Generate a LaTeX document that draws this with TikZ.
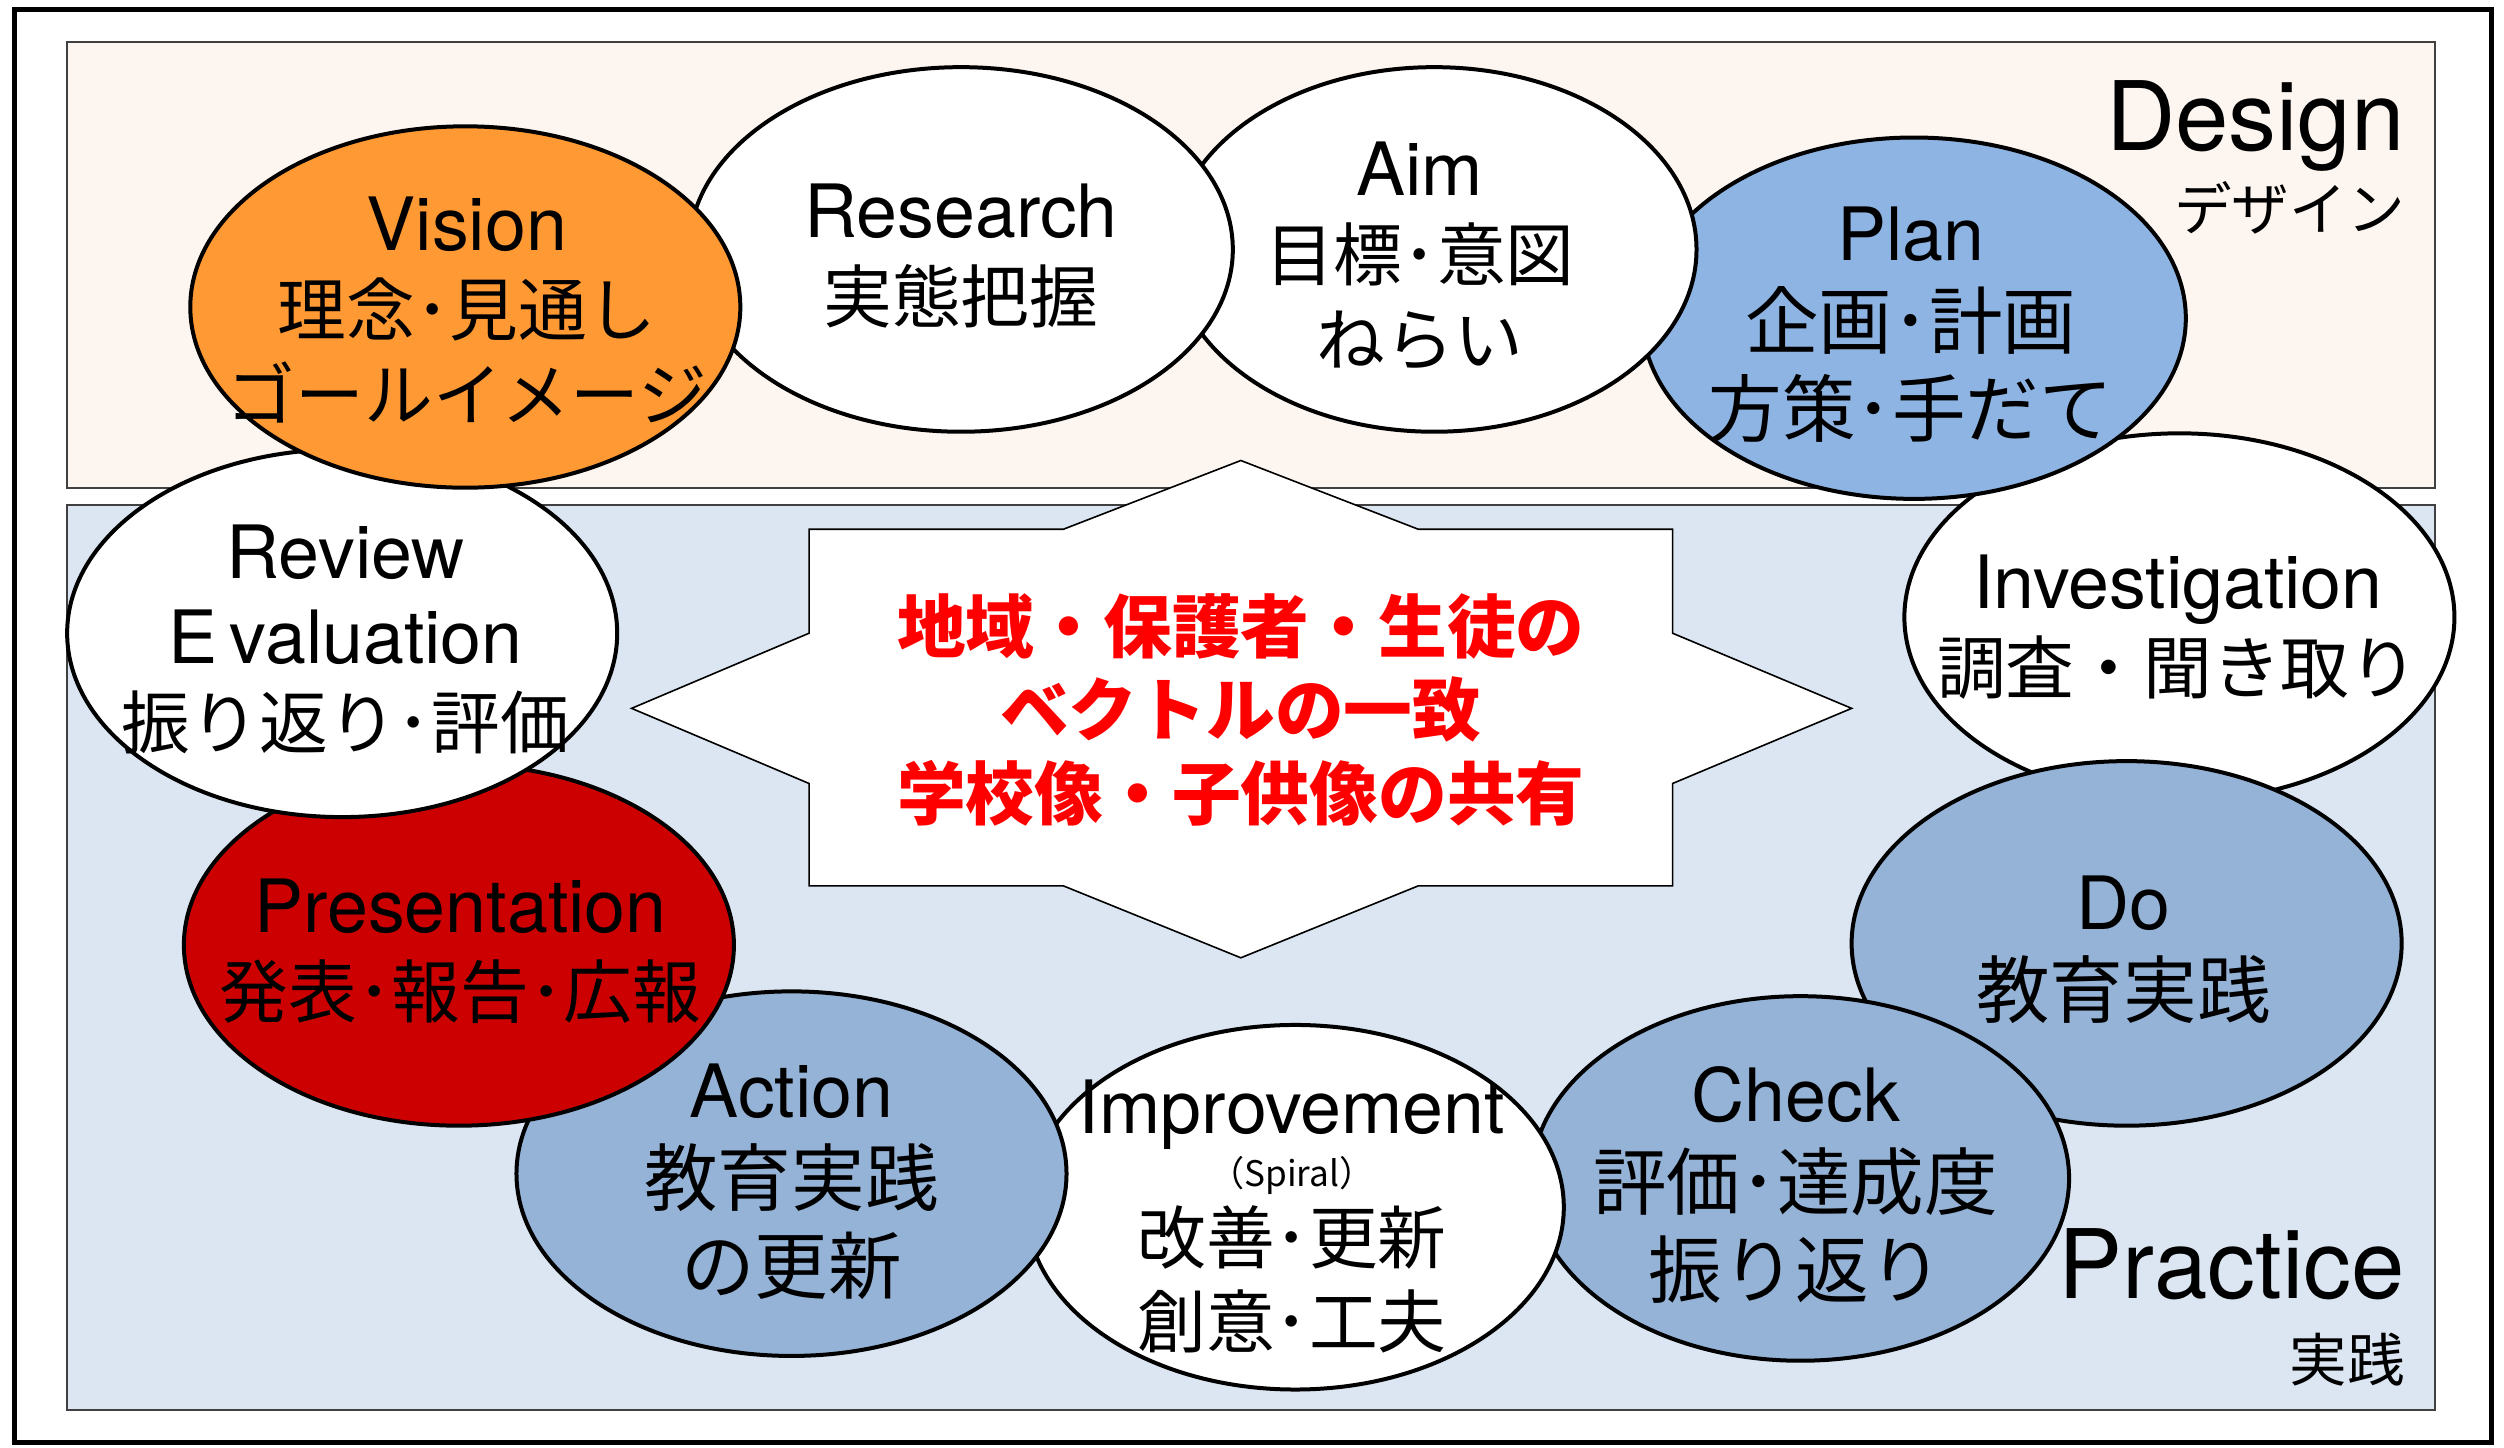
\documentclass[tikz,border=0pt]{standalone}
\usepackage{fontspec}
\setmainfont{TeX Gyre Heros}
\newfontfamily\jp{Noto Sans CJK JP}
\newcommand\jt[1]{{\jp\fontsize{43}{53}\selectfont #1}}
\newcommand\jtb[1]{{\jp\fontsize{46}{55}\selectfont #1}}
\definecolor{designbg}{RGB}{253,245,239}
\definecolor{practicebg}{RGB}{220,230,242}
\definecolor{visionfill}{RGB}{255,153,51}
\definecolor{presfill}{RGB}{204,0,0}
\definecolor{planfill}{RGB}{142,180,227}
\definecolor{stepfill}{RGB}{149,179,215}
\definecolor{areaedge}{RGB}{64,64,64}
\begin{document}
\begin{tikzpicture}[x=1pt,y=-1pt,
  bub/.style={draw=black, line width=2.5pt},
  lbl/.style={align=center, inner sep=0pt, font=\fontsize{46}{53}\selectfont},
  lblb/.style={align=center, inner sep=0pt, font=\fontsize{46}{55}\selectfont},
  area/.style={draw=areaedge, line width=1.2pt},
  biglbl/.style={inner sep=0pt, font=\fontsize{60}{66}\selectfont},
  sublbl/.style={inner sep=0pt, font=\jp\fontsize{36}{40}\selectfont}]
\useasboundingbox (0,0) rectangle (1566,905);
\fill[white] (0,0) rectangle (1566,905);
\draw[line width=3pt] (9,6) rectangle (1558,902);
\draw[area, fill=designbg] (42,26) rectangle (1523,305);
\draw[area, fill=practicebg] (42,316) rectangle (1523,882);
% labels of areas
\node[biglbl, anchor=base east] (design) at (1504,94) {Design};
\node[sublbl, anchor=east] (designjp) at (1504,130) {デザイン};
\node[biglbl, anchor=base east] (practice) at (1504,812) {Practice};
\node[sublbl, anchor=east] (practicejp) at (1504,850) {実践};
% central star
\draw[fill=white, line width=1pt] (776,288) -- (887,331) -- (1046,331) -- (1046,396) -- (1158,443) -- (1046,490) -- (1046,554) -- (887,554) -- (776,599) -- (665,554) -- (506,554) -- (506,490) -- (395,443) -- (506,396) -- (506,331) -- (665,331) -- cycle;
\node[align=center, inner sep=0pt, text=red, font=\jp\bfseries\fontsize{43}{52}\selectfont] (shared) at (776,444) {地域・保護者・生徒の\\ベクトルの一致\\学校像・子供像の共有};
% ellipses, back to front
\draw[bub, fill=white] (1363,386) ellipse [x radius=172pt, y radius=115pt];
\node[lbl] (investigation) at (1362,392) {Investigation\\\jt{調査・聞き取り}};
\draw[bub, fill=planfill] (1197,199) ellipse [x radius=170pt, y radius=113pt];
\node[lblb] (plan) at (1195,203) {Plan\\\jtb{企画･計画}\\\jtb{方策･手だて}};
\draw[bub, fill=white] (897,156) ellipse [x radius=164pt, y radius=114pt];
\node[lbl] (aim) at (888,160) {Aim\\\jt{目標･意図}\\\jt{ねらい}};
\draw[bub, fill=white] (601,156) ellipse [x radius=170pt, y radius=114pt];
\node[lbl] (research) at (601,160) {Research\\\jt{実態把握}};
\draw[bub, fill=stepfill] (1330,590) ellipse [x radius=172pt, y radius=114pt];
\node[lblb] (do) at (1328,594) {Do\\\jtb{教育実践}};
\draw[bub, fill=stepfill] (1126,737) ellipse [x radius=168pt, y radius=114pt];
\node[lblb] (check) at (1123,741) {Check\\\jtb{評価･達成度}\\\jtb{振り返り}};
\draw[bub, fill=white] (810,755) ellipse [x radius=168pt, y radius=114pt];
\node[lbl] (improvement) at (808,761) {Improvement\\[-20pt]{\jp\fontsize{22}{26}\selectfont （Spiral）}\\[-5pt]\jt{改善･更新}\\\jt{創意･工夫}};
\draw[bub, fill=stepfill] (495,734) ellipse [x radius=172pt, y radius=114pt];
\node[lblb] (action) at (495,739) {Action\\\jtb{教育実践}\\\jtb{の更新}};
\draw[bub, fill=presfill] (287,591) ellipse [x radius=172pt, y radius=113pt];
\node[lbl] (presentation) at (288,595) {Presentation\\\jt{発表･報告･広報}};
\draw[bub, fill=white] (214,396) ellipse [x radius=172pt, y radius=115pt];
\node[lbl] (review) at (216,400) {Review\\E\kern8pt{}valuation\\\jt{振り返り･評価}};
\draw[bub, fill=visionfill] (291,192) ellipse [x radius=172pt, y radius=113pt];
\node[lbl] (vision) at (292,194) {Vision\\\jt{理念･見通し}\\\jt{ゴールイメージ}};
\end{tikzpicture}
\end{document}
